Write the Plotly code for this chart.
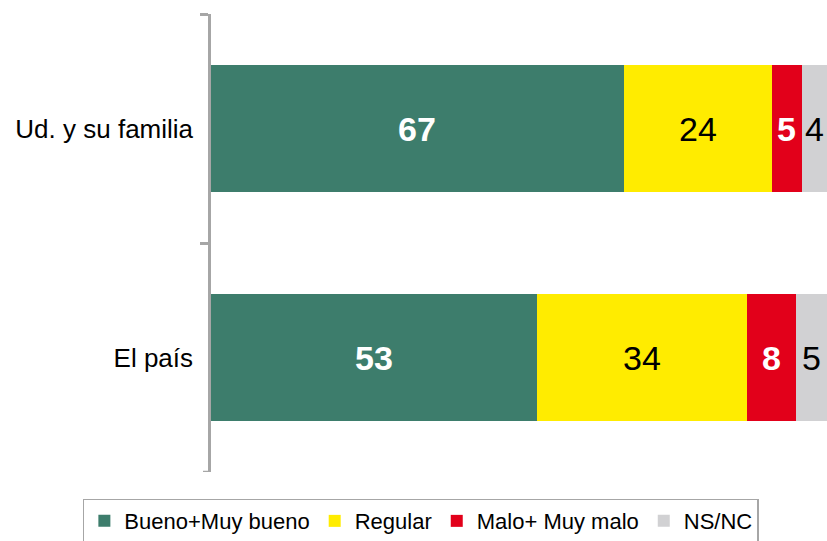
import plotly.graph_objects as go

categories = ["Ud. y su familia", "El país"]
series_names = ["Bueno+Muy bueno", "Regular", "Malo+ Muy malo", "NS/NC"]
bueno = [67, 53]
regular = [24, 34]
malo = [5, 8]
nsnc = [4, 5]
series_values = [bueno, regular, malo, nsnc]
colors = ["#3d7d6c", "#ffec00", "#e2001a", "#d1d1d3"]
label_colors = ["white", "black", "white", "black"]
label_bold = [True, False, True, False]

FONT = "Liberation Sans, Arial, sans-serif"
AXIS_GRAY = "#a6a6a6"

fig = go.Figure()
for name, vals, col in zip(series_names, series_values, colors):
    fig.add_trace(go.Bar(
        y=categories, x=vals, name=name, orientation="h",
        marker=dict(color=col, line=dict(width=0)),
        hoverinfo="x+name",
    ))

annotations = []
for ci, cat in enumerate(categories):
    left = 0
    for si, vals in enumerate(series_values):
        v = vals[ci]
        txt = f"<b>{v}</b>" if label_bold[si] else str(v)
        annotations.append(dict(
            x=left + v / 2, y=cat, xref="x", yref="y", text=txt,
            showarrow=False, font=dict(family=FONT, size=34, color=label_colors[si]),
        ))
        left += v

# closing tick at the last category boundary (Plotly omits it)
fig.add_shape(
    type="line", xref="x domain", yref="y",
    x0=-8 / 616, x1=0, y0=len(categories) - 0.5, y1=len(categories) - 0.5,
    line=dict(color=AXIS_GRAY, width=2.5), layer="above",
)

fig.update_layout(
    barmode="stack",
    bargap=0.445,
    width=827, height=541,
    margin=dict(l=211, r=0, t=14, b=69, autoexpand=False),
    paper_bgcolor="white", plot_bgcolor="white",
    font=dict(family=FONT, color="black"),
    annotations=annotations,
    showlegend=True,
    legend=dict(
        orientation="h", x=-0.208, xanchor="left", y=-0.058, yanchor="top",
        bordercolor=AXIS_GRAY, borderwidth=1.5,
        font=dict(family=FONT, size=22, color="black"),
        traceorder="normal", itemclick=False,
    ),
    xaxis=dict(range=[0, 100], visible=False, fixedrange=True),
    yaxis=dict(
        range=[1.5, -0.5], showline=True, linecolor=AXIS_GRAY, linewidth=2.5,
        ticks="outside", tickson="boundaries", ticklen=8, tickwidth=2.5,
        tickcolor=AXIS_GRAY, tickfont=dict(family=FONT, size=26, color="black"),
        ticklabelstandoff=10,
        showgrid=False, zeroline=False, fixedrange=True,
    ),
)

fig.write_html(
    "out.html",
    config={"displayModeBar": False},
    post_script="document.body.style.margin='0';document.body.style.overflow='hidden';",
)
